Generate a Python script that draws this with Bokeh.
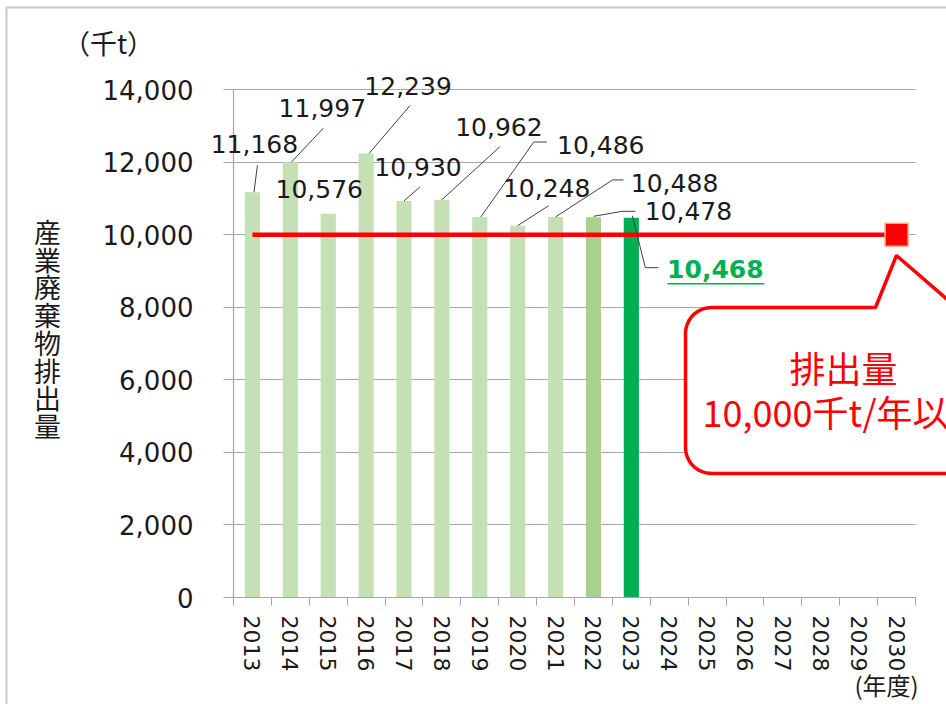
import numpy as np
from bokeh.plotting import figure
from bokeh.models import (ColumnDataSource, FixedTicker, Range1d, Label, LabelSet,
                          PolyAnnotation, NumeralTickFormatter)
from bokeh.core.properties import value
from bokeh.embed import file_html
from bokeh.resources import INLINE

# ---------------- data ----------------
years = [str(y) for y in range(2013, 2031)]
emission_years = ["2013", "2014", "2015", "2016", "2017", "2018",
                  "2019", "2020", "2021", "2022", "2023"]
emissions = [11168, 11997, 10576, 12239, 10930, 10962,
             10486, 10248, 10488, 10478, 10468]
target_years = ["2013", "2030"]
target_values = [10000, 10000]
target_marker_year = ["2030"]
target_marker_value = [10000]
y_ticks = [0, 2000, 4000, 6000, 8000, 10000, 12000, 14000]
y_title = "産業廃棄物排出量"
unit_label = "（千t）"
x_unit_label = "(年度)"
callout_lines = ["排出量", "10,000千t/年以下"]

# ---------------- styles / layout ----------------
bar_colors = ["#C5E0B4"] * 9 + ["#A9D18E", "#00B050"]
label_colors = ["#1a1a1a"] * 10 + ["#00B050"]
label_styles = ["normal"] * 10 + ["bold"]
# label centre offsets from bar top (px, +y = down)
label_off = [(2, -48), (32, -54), (-9, -25), (42, -67), (14, -34), (57, -73),
             (121, -72), (29, -38), (119, -34), (95, -6), (84, 51)]
leader_off = [[(5, -27), (1.5, 0)], [(33, -34), (1, 0)], [], [(44, -48), (3, 0)],
              [(16, -14), (0, 0)], [(58, -53), (0, 0)],
              [(67, -75), (54, -75), (1, 0)], [(31, -20), (0, 0)],
              [(68, -37), (57, -37), (0, 0)], [(42, -6), (29, -6), (0, -1)],
              [(1, -2), (14, 50), (27, 50)]]

W, H = 946, 704
FL, FT, FR, FB = 233, 89, 915, 597      # plot area in page px
NX = len(years)
YMAX = y_ticks[-1]
PXX = (FR - FL) / NX                    # px per category
PXY = (FB - FT) / YMAX                  # px per unit
GRID = "#A6A6A6"
NUM_FONT = "DejaVu Sans"
CJK_FONT = "Noto Sans CJK JP"


def dx(px):
    return px / PXX


def dy(px):
    return px / PXY


def page(px, py):
    return ((px - FL) / PXX, (FB - py) / PXY)


def xpos(y):
    return years.index(y) + 0.5


x0, y1 = page(0, 0)
x1, y0 = page(W, H)
p = figure(width=W, height=H, x_range=Range1d(x0, x1), y_range=Range1d(y0, y1),
           output_backend="svg", toolbar_location=None, min_border=0)
p.outline_line_color = None
p.background_fill_color = "white"
p.border_fill_color = "white"

# grid
p.xgrid.grid_line_color = None
p.ygrid.ticker = FixedTicker(ticks=y_ticks)
p.ygrid.bounds = (0, YMAX)
p.ygrid.cross_bounds = (0, NX)
p.ygrid.grid_line_color = GRID
p.ygrid.grid_line_width = 1.2

# x axis
p.xaxis.fixed_location = 0
p.xaxis.bounds = (0, NX)
p.xaxis.ticker = FixedTicker(ticks=[i + 0.5 for i in range(NX)],
                             minor_ticks=list(range(NX + 1)))
p.xaxis.major_label_overrides = {i + 0.5: years[i] for i in range(NX)}
p.xaxis.major_tick_line_color = None
p.xaxis.major_tick_out = 0
p.xaxis.major_tick_in = 0
p.xaxis.minor_tick_line_color = GRID
p.xaxis.minor_tick_out = 8
p.xaxis.minor_tick_in = 0
p.xaxis.axis_line_color = GRID
p.xaxis.axis_line_width = 1.2
p.xaxis.major_label_orientation = "vertical"
p.xaxis.major_label_standoff = 10
p.xaxis.major_label_text_font = NUM_FONT
p.xaxis.major_label_text_font_size = "22px"
p.xaxis.major_label_text_color = "#1a1a1a"

# y axis
p.yaxis.fixed_location = 0
p.yaxis.bounds = (0, YMAX)
p.yaxis.ticker = FixedTicker(ticks=y_ticks)
p.yaxis.formatter = NumeralTickFormatter(format="0,0")
p.yaxis.major_tick_out = 10
p.yaxis.major_tick_in = 0
p.yaxis.major_tick_line_color = GRID
p.yaxis.minor_tick_line_color = None
p.yaxis.axis_line_color = GRID
p.yaxis.axis_line_width = 1.2
p.yaxis.major_label_standoff = 30
p.yaxis.major_label_text_font = NUM_FONT
p.yaxis.major_label_text_font_size = "26px"
p.yaxis.major_label_text_color = "#1a1a1a"

# outer frame of the picture (top and left edges)
bxs = [page(6, 7)[0], page(1200, 7)[0], page(1200, 900)[0], page(6, 900)[0]]
bys = [page(6, 7)[1], page(1200, 7)[1], page(1200, 900)[1], page(6, 900)[1]]
p.add_layout(PolyAnnotation(xs=bxs, ys=bys, fill_alpha=0, line_color="#C8C8C8",
                            line_alpha=1, line_width=2))

# bars
bx = [xpos(y) for y in emission_years]
bars = ColumnDataSource(dict(x=bx, top=emissions, color=bar_colors))
p.vbar(x="x", top="top", width=0.4, bottom=0, fill_color="color",
       line_color=None, source=bars)

# target line + marker
p.line([xpos(y) for y in target_years], target_values, line_color="#FF0000",
       line_width=4.5)
p.scatter([xpos(y) for y in target_marker_year], target_marker_value,
          marker="square", size=23, fill_color="#FF0000",
          line_color="#F4B183", line_width=1.5)

# leader lines
lxs, lys = [], []
for x, v, pts in zip(bx, emissions, leader_off):
    if not pts:
        continue
    lxs.append([x + dx(a) for a, b in pts])
    lys.append([v - dy(b) for a, b in pts])
p.multi_line(lxs, lys, line_color="#404040", line_width=1)

# underline of latest value
ux, uv = bx[-1], emissions[-1]
ox, oy = label_off[-1]
p.segment(x0=[ux + dx(ox - 48)], y0=[uv - dy(oy + 15)],
          x1=[ux + dx(ox + 49)], y1=[uv - dy(oy + 15)],
          line_color="#00B050", line_width=1.5)

# value labels
lab = ColumnDataSource(dict(
    x=[x + dx(o[0]) for x, o in zip(bx, label_off)],
    y=[v - dy(o[1]) for v, o in zip(emissions, label_off)],
    text=[f"{v:,}" for v in emissions],
    color=label_colors, style=label_styles))
p.add_layout(LabelSet(x="x", y="y", text="text", source=lab,
                      text_align="center", text_baseline="middle",
                      text_font=value(NUM_FONT), text_font_size="25px",
                      text_color="color", text_font_style="style"))

# callout bubble (page px geometry, y downward)
r = 26
L0, T0, B0, R0 = 685, 307, 473, 1010
pts = [(L0 + r, T0), (875, T0), (896, 255), (956, T0), (R0, T0), (R0, B0), (L0 + r, B0)]
for a in np.linspace(np.pi / 2, np.pi, 10):
    pts.append((L0 + r + r * np.cos(a), B0 - r + r * np.sin(a)))
pts.append((L0, T0 + r))
for a in np.linspace(np.pi, 1.5 * np.pi, 10):
    pts.append((L0 + r + r * np.cos(a), T0 + r + r * np.sin(a)))
p.add_layout(PolyAnnotation(xs=[page(a, b)[0] for a, b in pts],
                            ys=[page(a, b)[1] for a, b in pts],
                            fill_color="white", fill_alpha=1,
                            line_color="#FF0000", line_alpha=1, line_width=3.5))
for txt, py in zip(callout_lines, [366, 410]):
    cx, cy = page(843, py)
    p.add_layout(Label(x=cx, y=cy, text=txt, text_align="center",
                       text_baseline="middle", text_font=CJK_FONT,
                       text_font_size="36px", text_color="#FF0000"))

# y axis title, stacked vertically
for i, ch in enumerate(y_title):
    cx, cy = page(47, 231 + i * 27.7)
    p.add_layout(Label(x=cx, y=cy, text=ch, text_align="center",
                       text_baseline="middle", text_font=CJK_FONT,
                       text_font_size="27px", text_color="#1a1a1a"))

# unit labels
cx, cy = page(108, 42)
p.add_layout(Label(x=cx, y=cy, text=unit_label, text_align="center",
                   text_baseline="middle", text_font="Noto Sans CJK SC",
                   text_font_size="27px", text_color="#1a1a1a"))
cx, cy = page(886, 701)
p.add_layout(Label(x=cx, y=cy, text=x_unit_label, text_align="center",
                   text_baseline="bottom", text_font=CJK_FONT,
                   text_font_size="24px", text_color="#1a1a1a"))

open("out.html", "w").write(file_html(p, INLINE))
